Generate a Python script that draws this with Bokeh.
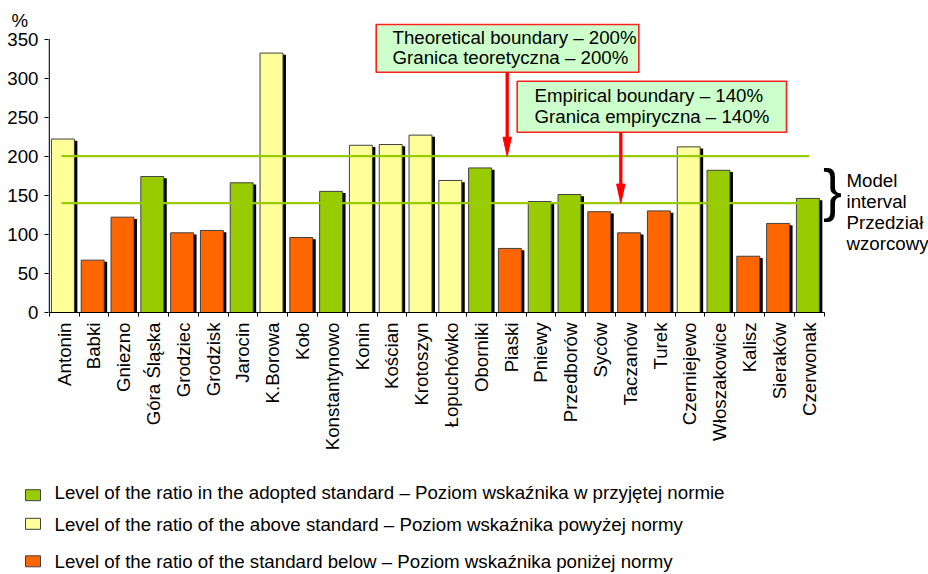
import math
from bokeh.plotting import figure
from bokeh.layouts import column
from bokeh.models import (ColumnDataSource, Range1d, FixedTicker, CustomJSTickFormatter)
from bokeh.core.properties import value
from bokeh.embed import file_html
from bokeh.resources import INLINE

# ---------------- data ----------------
towns = ["Antonin", "Babki", "Gniezno", "Góra Śląska", "Grodziec", "Grodzisk", "Jarocin",
         "K.Borowa", "Koło", "Konstantynowo", "Konin", "Kościan", "Krotoszyn", "Łopuchówko",
         "Oborniki", "Piaski", "Pniewy", "Przedborów", "Syców", "Taczanów", "Turek",
         "Czerniejewo", "Włoszakowice", "Kalisz", "Sieraków", "Czerwonak"]
ratios = [222, 67, 122, 174, 102, 105, 166, 332, 96, 155, 214, 215, 227, 169,
          185, 82, 142, 151, 129, 102, 130, 212, 182, 72, 114, 146]
levels = ["above", "below", "below", "in", "below", "below", "in", "above", "below", "in",
          "above", "above", "above", "above", "in", "below", "in", "in", "below", "below",
          "below", "above", "in", "below", "below", "in"]
y_ticks = [0, 50, 100, 150, 200, 250, 300, 350]
y_unit = "%"
theoretical = 200
empirical = 140
legend_order = ["in", "above", "below"]
legend_labels = {
    "in": "Level of the ratio in the adopted standard – Poziom wskaźnika w przyjętej normie",
    "above": "Level of the ratio of the above standard – Poziom wskaźnika powyżej normy",
    "below": "Level of the ratio of the standard below – Poziom wskaźnika poniżej normy",
}
box_texts_1 = ["Theoretical boundary – 200%", "Granica teoretyczna – 200%"]
box_texts_2 = ["Empirical boundary – 140%", "Granica empiryczna – 140%"]
side_texts = ["Model", "interval", "Przedział", "wzorcowy"]

# ---------------- style / layout ----------------
FONT = "Liberation Sans"
FS = "18.7px"
COLORS = {"in": "#99CC00", "above": "#FFFF99", "below": "#FF6600"}
N = len(towns)
W, H1, H2 = 928, 470, 104
PX_X = 29.8            # px per category
PX_Y = 0.7814          # px per unit
AXIS_X = 48.7          # screen x of category 0
ZERO_Y = 312           # screen y of value 0
FRAME_L, FRAME_T = 48, 16
x_start = -(AXIS_X - FRAME_L) / PX_X
x_end = x_start + (W - FRAME_L) / PX_X
y_end = (ZERO_Y - FRAME_T) / PX_Y
unit_tick = (ZERO_Y - 20) / PX_Y

p = figure(width=W, height=H1, x_range=Range1d(x_start, x_end), y_range=Range1d(0, y_end),
           min_border_left=FRAME_L, min_border_right=0, min_border_top=FRAME_T,
           min_border_bottom=H1 - ZERO_Y,
           output_backend="svg", toolbar_location=None, outline_line_color=None)
p.xgrid.visible = False
p.ygrid.visible = False

# y axis: labels on majors (incl. the unit), tick marks on minors
p.yaxis.ticker = FixedTicker(ticks=y_ticks + [unit_tick], minor_ticks=y_ticks)
p.yaxis.formatter = CustomJSTickFormatter(
    args=dict(unit=y_unit, top=max(y_ticks)),
    code="return tick > top ? unit + '\\u00a0\\u00a0' : tick.toFixed(0);")
p.yaxis.major_label_text_font = FONT
p.yaxis.major_label_text_font_size = FS
p.yaxis.major_label_text_color = "black"
p.yaxis.major_tick_line_color = None
p.yaxis.major_tick_out = 4
p.yaxis.major_tick_in = 0
p.yaxis.minor_tick_out = 4
p.yaxis.minor_tick_in = 0
p.yaxis.minor_tick_line_color = "black"
p.yaxis.major_label_standoff = 6
p.yaxis.axis_line_color = None
p.line(x=[0, 0], y=[0, max(y_ticks)], line_color="black", line_width=1.3)

# x axis: labels at category centres, tick marks at boundaries
p.xaxis.ticker = FixedTicker(ticks=[i + 0.5 for i in range(N)], minor_ticks=list(range(N + 1)))
p.xaxis.formatter = CustomJSTickFormatter(args=dict(names=towns),
                                          code="return names[Math.round(tick - 0.5)] || '';")
p.xaxis.bounds = (0, N)
p.xaxis.major_label_orientation = math.pi / 2
p.xaxis.major_label_text_font = FONT
p.xaxis.major_label_text_font_size = FS
p.xaxis.major_label_text_color = "black"
p.xaxis.axis_line_color = "black"
p.xaxis.major_tick_line_color = None
p.xaxis.major_tick_out = 4
p.xaxis.minor_tick_out = 4
p.xaxis.minor_tick_in = 0
p.xaxis.minor_tick_line_color = "black"
p.xaxis.major_label_standoff = 6

# bars with shadow
xs = [i + 0.46 for i in range(N)]
shadow_src = ColumnDataSource(dict(x=[x + 0.1 for x in xs], top=[r - 2.2 for r in ratios]))
p.vbar(x="x", top="top", width=0.77, source=shadow_src, fill_color="black", line_color=None)
for lvl in legend_order:
    idx = [i for i in range(N) if levels[i] == lvl]
    src = ColumnDataSource(dict(x=[xs[i] for i in idx], top=[ratios[i] for i in idx]))
    p.vbar(x="x", top="top", width=0.77, source=src,
           fill_color=COLORS[lvl], line_color="#404040", line_width=1)

# boundary lines
for b in [theoretical, empirical]:
    p.line(x=[0.41, 25.5], y=[b, b], line_color="#99CC00", line_width=2.2)

def dx(px):
    return (px - AXIS_X) / PX_X

def dy(py):
    return (ZERO_Y - py) / PX_Y

# annotation boxes
p.quad(left=[dx(375.7), dx(516.7)], right=[dx(638.3), dx(786)],
       top=[dy(24), dy(80.7)], bottom=[dy(71.7), dy(131.7)],
       fill_color="#CCFFCC", line_color="#FF2020", line_width=1.6)
p.text(x=[dx(392)] * 2, y=[dy(36.7), dy(56.7)], text=box_texts_1,
       text_font=value(FONT), text_font_size=FS, text_baseline="middle",
       text_color="black")
p.text(x=[dx(534)] * 2, y=[dy(95.0), dy(115.6)], text=box_texts_2,
       text_font=value(FONT), text_font_size=FS, text_baseline="middle",
       text_color="black")

# arrows
head_len = 19 / PX_Y
head_half = 4.2 / PX_X
for ax_px, y_from_px, b in [(506.7, 71.7, theoretical), (620.3, 131.7, empirical)]:
    ax = dx(ax_px)
    p.segment(x0=[ax], y0=[dy(y_from_px)], x1=[ax], y1=[b + head_len * 0.9],
              line_color="#FF0000", line_width=3.3)
    p.patch(x=[ax - head_half, ax + head_half, ax], y=[b + head_len, b + head_len, b],
            fill_color="#FF0000", line_color="#FF0000", line_width=1)

# brace and side text
p.text(x=[dx(832)], y=[dy(189)], text=["}"], text_font=value(FONT), text_font_size="57px",
       text_align="center", text_baseline="middle", text_color="black")
p.text(x=[dx(846)] * 4, y=[dy(179.5), dy(201), dy(222.3), dy(243)], text=side_texts,
       text_font=value(FONT), text_font_size=FS, text_baseline="middle",
       text_color="black")

# ---------------- legend strip ----------------
p2 = figure(width=W, height=H2, min_border=0, x_axis_location=None, y_axis_location=None,
            output_backend="svg", toolbar_location=None, outline_line_color=None)
p2.xgrid.visible = False
p2.ygrid.visible = False
aligned_off = False
if "frame_align" in p2.properties():
    p.frame_align = False
    p2.frame_align = False
    aligned_off = True
left0 = 0 if aligned_off else FRAME_L
p2.x_range = Range1d(left0, W)            # data x == screen x
p2.y_range = Range1d(0, H2)               # data y == (total height - screen y)
shift = 0 if aligned_off else (FRAME_L + 1 - 25)
HT = H1 + H2
sw_y = [494.7, 523.3, 560.8]
tx_y = [492.3, 524.0, 561.3]
p2.rect(x=[32.5 + shift] * 3, y=[HT - v for v in sw_y], width=15, height=11,
        fill_color=[COLORS[l] for l in legend_order], line_color="#404040", line_width=1)
p2.text(x=[54 + shift] * 3, y=[HT - v for v in tx_y], text=[legend_labels[l] for l in legend_order],
        text_font=value(FONT), text_font_size=FS, text_baseline="middle", text_color="black")

open("out.html", "w").write(file_html(column(p, p2, spacing=0), INLINE))
